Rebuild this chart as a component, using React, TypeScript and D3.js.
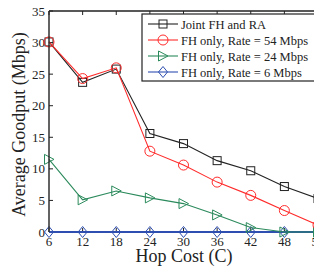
import React from "react";
import * as d3 from "d3";

// hop cost (x) and average goodput in Mbps per scheme
const hopCost = [6, 12, 18, 24, 30, 36, 42, 48, 54];
const jointFhRa = [30.1, 23.7, 25.8, 15.6, 14.0, 11.3, 9.7, 7.2, 5.3];
const fhRate54 = [30.1, 24.3, 26.0, 12.8, 10.6, 7.9, 5.8, 3.4, 1.1];
const fhRate24 = [11.5, 5.1, 6.5, 5.4, 4.5, 2.7, 0.7, 0.0, 0.0];
const fhRate6 = [0, 0, 0, 0, 0, 0, 0, 0, 0];

const yTicks = [0, 5, 10, 15, 20, 25, 30, 35];
const legendLabels = [
  "Joint FH and RA",
  "FH only, Rate = 54 Mbps",
  "FH only, Rate = 24 Mbps",
  "FH only, Rate = 6 Mbps",
];

type Marker = "square" | "circle" | "triangle" | "diamond";

const series = [
  { name: legendLabels[3], values: fhRate6, color: "#2f4fb0", marker: "diamond" as Marker },
  { name: legendLabels[2], values: fhRate24, color: "#2b8a5c", marker: "triangle" as Marker },
  { name: legendLabels[0], values: jointFhRa, color: "#222222", marker: "square" as Marker },
  { name: legendLabels[1], values: fhRate54, color: "#ff2b2b", marker: "circle" as Marker },
];
const legendOrder = [2, 3, 1, 0];

const FONT = "'Liberation Serif', 'Times New Roman', serif";

const MarkerShape = ({ kind, x, y, color }: { kind: Marker; x: number; y: number; color: string }) => {
  const common = { fill: "none", stroke: color, strokeWidth: 1 };
  if (kind === "square") return <rect x={x - 4} y={y - 4} width={8} height={8} {...common} />;
  if (kind === "circle") return <circle cx={x} cy={y} r={5} {...common} />;
  if (kind === "triangle")
    return <path d={`M${x - 4.5},${y - 5}L${x + 5},${y}L${x - 4.5},${y + 5}Z`} {...common} />;
  return <path d={`M${x},${y - 5.5}L${x + 4.5},${y}L${x},${y + 5.5}L${x - 4.5},${y}Z`} {...common} />;
};

export default function App() {
  const width = 314;
  const height = 268;
  const left = 49, right = 318, top = 11, bottom = 232;

  const x = d3.scaleLinear().domain([6, 54]).range([left, right]);
  const y = d3.scaleLinear().domain([0, 35]).range([bottom, top]);

  const line = d3
    .line<number>()
    .x((_, i) => x(hopCost[i]))
    .y((d) => y(d));

  return (
    <svg
      width={width}
      height={height}
      style={{ position: "absolute", left: 0, top: 0, background: "#fff" }}
      fontFamily={FONT}
    >
      {/* ticks (inward, on all sides) */}
      {hopCost.map((t) => (
        <g key={"xt" + t}>
          <line x1={x(t)} x2={x(t)} y1={bottom} y2={bottom - 4} stroke="#222" />
          <line x1={x(t)} x2={x(t)} y1={top} y2={top + 4} stroke="#222" />
          <text x={x(t)} y={246} textAnchor="middle" fontSize={13} fill="#222">
            {t}
          </text>
        </g>
      ))}
      {yTicks.map((t) => (
        <g key={"yt" + t}>
          <line x1={left} x2={left + 4} y1={y(t)} y2={y(t)} stroke="#222" />
          <text x={45} y={y(t) + 4.5} textAnchor="end" fontSize={13} fill="#222">
            {t}
          </text>
        </g>
      ))}

      {/* series */}
      {series.map((s) => (
        <g key={s.name}>
          <path d={line(s.values) ?? ""} fill="none" stroke={s.color} strokeWidth={s.marker === "diamond" ? 2.2 : 1.1} />
          {s.values.map((v, i) => (
            <MarkerShape key={i} kind={s.marker} x={x(hopCost[i])} y={y(v)} color={s.color} />
          ))}
        </g>
      ))}

      {/* axes box */}
      <path
        d={`M${left},${top}H${right + 10}M${left},${top}V${bottom}`}
        fill="none"
        stroke="#222"
        strokeWidth={1.4}
      />

      {/* legend */}
      <rect x={142} y={14} width={200} height={67} fill="#fff" stroke="#222" strokeWidth={1.2} />
      {legendOrder.map((si, row) => {
        const s = series[si];
        const ly = 24 + row * 16;
        return (
          <g key={"lg" + row}>
            <line x1={148} x2={178} y1={ly} y2={ly} stroke={s.color} strokeWidth={1.1} />
            <MarkerShape kind={s.marker} x={163} y={ly} color={s.color} />
            <text x={181} y={ly + 4.5} fontSize={12.5} fill="#222">
              {s.name}
            </text>
          </g>
        );
      })}

      {/* axis labels */}
      <text x={184} y={262} textAnchor="middle" fontSize={18} fill="#222">
        Hop Cost (C)
      </text>
      <text
        transform={`translate(25,${(top + bottom) / 2 + 3}) rotate(-90)`}
        textAnchor="middle"
        fontSize={18}
        fill="#222"
      >
        Average Goodput (Mbps)
      </text>
    </svg>
  );
}
